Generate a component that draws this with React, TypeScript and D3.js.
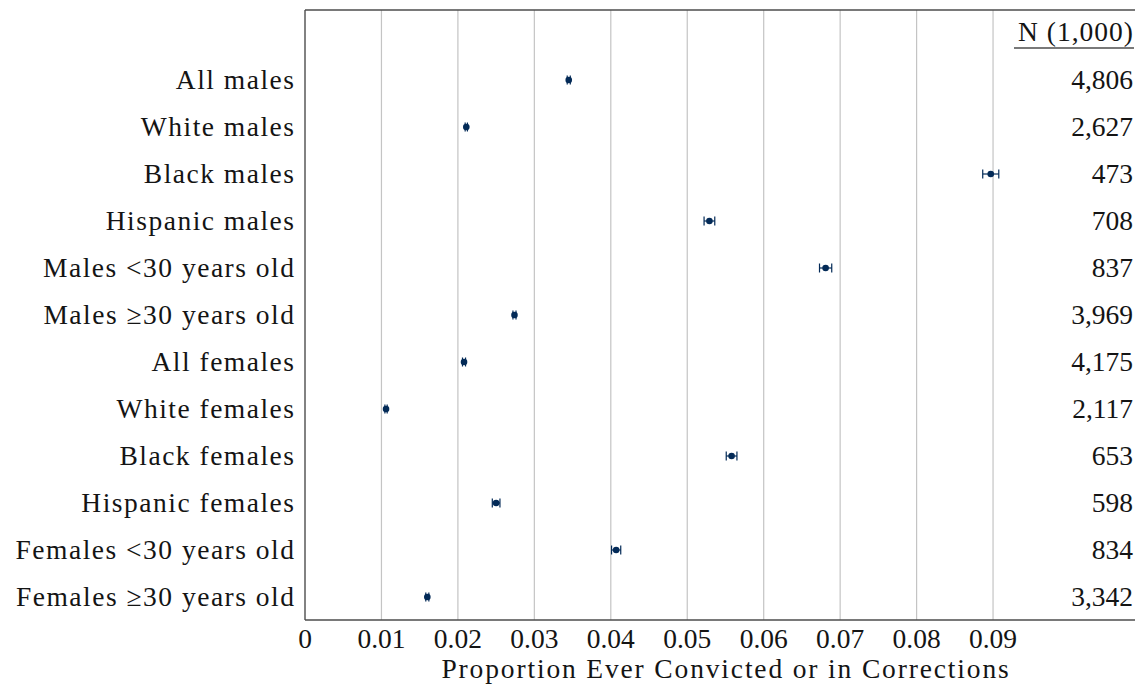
import React from "react";
import * as d3 from "d3";

const categories: string[] = [
  "All males",
  "White males",
  "Black males",
  "Hispanic males",
  "Males <30 years old",
  "Males \u226530 years old",
  "All females",
  "White females",
  "Black females",
  "Hispanic females",
  "Females <30 years old",
  "Females \u226530 years old",
];
const proportions: number[] = [0.0345, 0.0211, 0.0897, 0.0529, 0.0681, 0.0274, 0.0208, 0.0106, 0.0558, 0.025, 0.0407, 0.016];
const errors: number[] = [0.0002, 0.00015, 0.00105, 0.0007, 0.0008, 0.0002, 0.0002, 0.00015, 0.0007, 0.0005, 0.0006, 0.0002];
const nValues: string[] = ["4,806", "2,627", "473", "708", "837", "3,969", "4,175", "2,117", "653", "598", "834", "3,342"];
const xTicks: number[] = [0, 0.01, 0.02, 0.03, 0.04, 0.05, 0.06, 0.07, 0.08, 0.09];
const xTickLabels: string[] = ["0", "0.01", "0.02", "0.03", "0.04", "0.05", "0.06", "0.07", "0.08", "0.09"];
const nHeader = "N (1,000)";
const xTitle = "Proportion Ever Convicted or in Corrections";

const W = 1135;
const H = 685;
const left = 305;
const right = 1141;
const top = 10;
const bottom = 620;
const FONT = "'Liberation Serif', 'Times New Roman', serif";
const FS = 27.5;
const LS = 1.5;
const NAVY = "#032a57";
const TXT = "#141414";

export default function App() {
  const x = d3.scaleLinear().domain([0, 0.09]).range([left, left + 9 * 76.45]);
  const y = d3
    .scalePoint<string>()
    .domain(categories)
    .range([80, 80 + 11 * 47]);

  return (
    <svg width={W} height={H} style={{ position: "absolute", left: 0, top: 0 }}>
      <rect width={W} height={H} fill="white" />
      {/* grid */}
      {xTicks.slice(1).map((t) => (
        <line key={t} x1={x(t)} x2={x(t)} y1={top} y2={bottom} stroke="#c4c4c4" strokeWidth={1.2} />
      ))}
      {/* frame */}
      <line x1={left} x2={right} y1={top} y2={top} stroke="#4d4d4d" strokeWidth={1.4} />
      <line x1={left} x2={right} y1={bottom} y2={bottom} stroke="#4d4d4d" strokeWidth={1.4} />
      <line x1={left} x2={left} y1={top} y2={bottom} stroke="#4d4d4d" strokeWidth={1.4} />

      {/* N header */}
      <text x={1133 + 1} y={41} textAnchor="end" fontFamily={FONT} fontSize={FS} letterSpacing={1} fill={TXT}>
        {nHeader}
      </text>
      <line x1={1014} x2={1134} y1={48} y2={48} stroke="#4d4d4d" strokeWidth={1.4} />

      {categories.map((c, i) => {
        const cy = y(c)!;
        const v = proportions[i];
        const e = errors[i];
        return (
          <g key={c}>
            <text
              x={294 + LS}
              y={cy + 9}
              textAnchor="end"
              fontFamily={FONT}
              fontSize={FS}
              letterSpacing={LS}
              fill={TXT}
            >
              {c}
            </text>
            <text x={1133} y={cy + 9} textAnchor="end" fontFamily={FONT} fontSize={FS} fill={TXT}>
              {nValues[i]}
            </text>
            <line x1={x(v - e)} x2={x(v + e)} y1={cy} y2={cy} stroke={NAVY} strokeWidth={1.2} />
            <line x1={x(v - e)} x2={x(v - e)} y1={cy - 4.5} y2={cy + 4.5} stroke={NAVY} strokeWidth={1.2} />
            <line x1={x(v + e)} x2={x(v + e)} y1={cy - 4.5} y2={cy + 4.5} stroke={NAVY} strokeWidth={1.2} />
            <circle cx={x(v)} cy={cy} r={3.3} fill={NAVY} />
          </g>
        );
      })}

      {/* x tick labels */}
      {xTicks.map((t, i) => (
        <text key={t} x={x(t)} y={648} textAnchor="middle" fontFamily={FONT} fontSize={FS} fill={TXT}>
          {xTickLabels[i]}
        </text>
      ))}
      <text
        x={(442 + 1008) / 2 + 1}
        y={678}
        textAnchor="middle"
        fontFamily={FONT}
        fontSize={FS}
        letterSpacing={1.85}
        fill={TXT}
      >
        {xTitle}
      </text>
    </svg>
  );
}
